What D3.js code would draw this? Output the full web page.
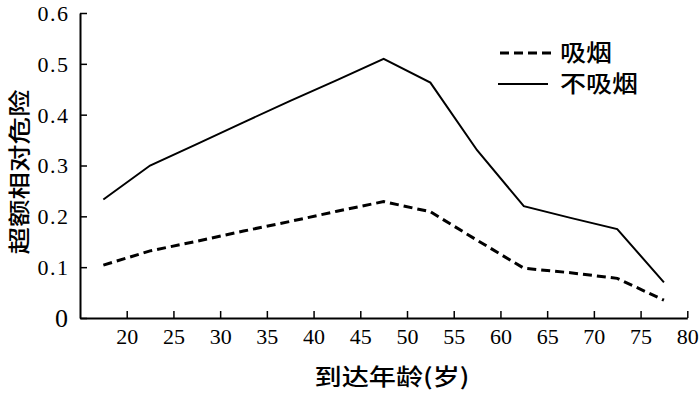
<!DOCTYPE html>
<html><head><meta charset="utf-8">
<script src="https://cdn.jsdelivr.net/npm/d3@7"></script>
<style>body{margin:0;background:#fff}</style>
</head><body>
<svg id="c" width="700" height="394"></svg>
<script>
const ages = [17.5, 22.5, 27.5, 32.5, 37.5, 42.5, 47.5, 52.5, 57.5, 62.5, 67.5, 72.5, 77.5];
const smoker = [0.104, 0.132, 0.151, 0.171, 0.190, 0.210, 0.229, 0.209, 0.153, 0.098, 0.089, 0.078, 0.035];
const nonSmoker = [0.233, 0.300, 0.342, 0.385, 0.427, 0.468, 0.510, 0.463, 0.330, 0.220, 0.197, 0.175, 0.070];
const xTicks = [20, 25, 30, 35, 40, 45, 50, 55, 60, 65, 70, 75, 80];
const yTicks = [0, 0.1, 0.2, 0.3, 0.4, 0.5, 0.6];
const seriesNames = ["吸烟", "不吸烟"];
const xTitle = "到达年龄(岁)";
const yTitle = "超额相对危险";

const svg = d3.select("#c");
const x = d3.scaleLinear().domain([15, 80]).range([80, 687.3]);
const y = d3.scaleLinear().domain([0, 0.6]).range([318, 13]);
const serif = "Liberation Serif";
const cjk = "Noto Sans CJK SC";

const xa = svg.append("g").attr("transform", `translate(0,${y(0)})`)
  .call(d3.axisTop(x).tickValues(xTicks).tickSize(7).tickSizeOuter(0).tickFormat(d3.format("d")));
xa.select(".domain").attr("stroke", "#000").attr("stroke-width", 2);
xa.selectAll(".tick line").attr("stroke", "#000").attr("stroke-width", 1.5);
xa.selectAll(".tick text").attr("y", 26).attr("dy", 0)
  .attr("font-family", serif).attr("font-size", 22).attr("fill", "#000");

const ya = svg.append("g").attr("transform", `translate(${x(15)},0)`)
  .call(d3.axisRight(y).tickValues(yTicks).tickSize(7).tickSizeOuter(0).tickFormat(d => d === 0 ? "0" : d3.format(".1f")(d)));
ya.select(".domain").attr("stroke", "#000").attr("stroke-width", 2);
ya.selectAll(".tick line").attr("stroke", "#000").attr("stroke-width", 1.5);
ya.selectAll(".tick text").attr("x", -10.5).attr("text-anchor", "end").attr("dy", "0.34em")
  .attr("font-family", serif).attr("font-size", d => d === 0 ? 26 : 22).attr("letter-spacing", 1.5).attr("fill", "#000");

const line = d3.line().x((d, i) => x(ages[i])).y(d => y(d));
svg.append("path").datum(nonSmoker).attr("d", line).attr("fill", "none")
  .attr("stroke", "#000").attr("stroke-width", 2).attr("stroke-linejoin", "miter");
svg.append("path").datum(smoker).attr("d", line).attr("fill", "none")
  .attr("stroke", "#000").attr("stroke-width", 3).attr("stroke-dasharray", "9,5");

// legend
const lg = svg.append("g");
lg.append("line").attr("x1", 500).attr("x2", 552).attr("y1", 53).attr("y2", 53)
  .attr("stroke", "#000").attr("stroke-width", 3).attr("stroke-dasharray", "9,5");
lg.append("line").attr("x1", 498).attr("x2", 548).attr("y1", 84).attr("y2", 84)
  .attr("stroke", "#000").attr("stroke-width", 1.8);
lg.append("text").attr("x", 560).attr("y", 61).text(seriesNames[0])
  .attr("font-family", cjk).attr("font-size", 23).attr("font-weight", 500).attr("textLength", 52).attr("lengthAdjust", "spacingAndGlyphs");
lg.append("text").attr("x", 560).attr("y", 92).text(seriesNames[1])
  .attr("font-family", cjk).attr("font-size", 23).attr("font-weight", 500).attr("textLength", 78).attr("lengthAdjust", "spacingAndGlyphs");

svg.append("text").attr("x", 392).attr("y", 385).attr("text-anchor", "middle")
  .attr("font-family", cjk).attr("font-size", 23).attr("font-weight", 500).text(xTitle)
  .attr("textLength", 155).attr("lengthAdjust", "spacingAndGlyphs");
svg.append("text").attr("transform", "translate(27,172) rotate(-90)").attr("text-anchor", "middle")
  .attr("font-family", cjk).attr("font-size", 22).attr("font-weight", 500).text(yTitle)
  .attr("textLength", 165).attr("lengthAdjust", "spacingAndGlyphs");
</script>
</body></html>
